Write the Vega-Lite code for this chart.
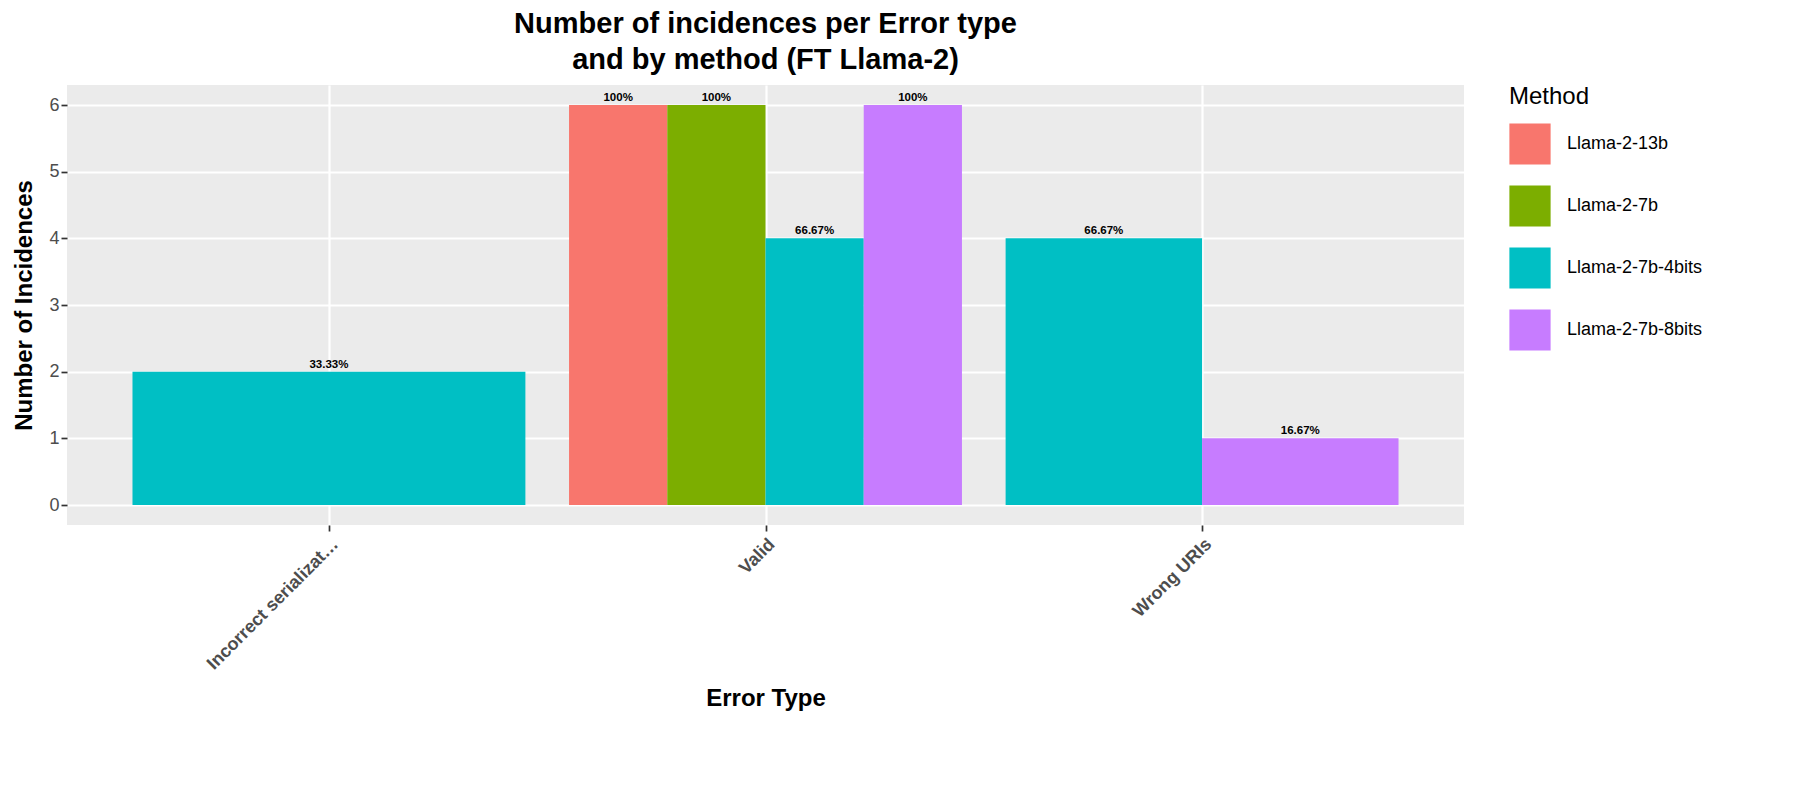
{
  "$schema": "https://vega.github.io/schema/vega-lite/v6.json",
  "width": 1397,
  "height": 440,
  "padding": {"left": 12, "top": 10, "right": 10, "bottom": 10},
  "background": "white",
  "title": {
    "text": ["Number of incidences per Error type", "and by method (FT Llama-2)"],
    "fontSize": 29, "font": "Liberation Sans", "fontWeight": "bold", "color": "black",
    "anchor": "middle", "lineHeight": 36, "offset": 10
  },
  "config": {
    "view": {"fill": "#EBEBEB", "stroke": null},
    "font": "Liberation Sans"
  },
  "data": {
    "values": [
      {"type": "Incorrect serialization", "method": "Llama-2-7b-4bits", "n": 2, "pct": "33.33%"},
      {"type": "Valid", "method": "Llama-2-13b", "n": 6, "pct": "100%"},
      {"type": "Valid", "method": "Llama-2-7b", "n": 6, "pct": "100%"},
      {"type": "Valid", "method": "Llama-2-7b-4bits", "n": 4, "pct": "66.67%"},
      {"type": "Valid", "method": "Llama-2-7b-8bits", "n": 6, "pct": "100%"},
      {"type": "Wrong URIs", "method": "Llama-2-7b-4bits", "n": 4, "pct": "66.67%"},
      {"type": "Wrong URIs", "method": "Llama-2-7b-8bits", "n": 1, "pct": "16.67%"}
    ]
  },
  "transform": [
    {"calculate": "indexof(['Incorrect serialization','Valid','Wrong URIs'], datum.type) + 1", "as": "g"},
    {"calculate": "indexof(['Llama-2-13b','Llama-2-7b','Llama-2-7b-4bits','Llama-2-7b-8bits'], datum.method)", "as": "mi"},
    {"joinaggregate": [{"op": "count", "as": "cnt"}], "groupby": ["type"]},
    {"window": [{"op": "row_number", "as": "r"}], "groupby": ["type"], "sort": [{"field": "mi"}]},
    {"calculate": "datum.g - 0.45 + (datum.r - 1) * 0.9 / datum.cnt", "as": "x0"},
    {"calculate": "datum.x0 + 0.9 / datum.cnt", "as": "x1"},
    {"calculate": "(datum.x0 + datum.x1) / 2", "as": "xm"}
  ],
  "encoding": {
    "x": {
      "field": "x0", "type": "quantitative",
      "scale": {"domain": [0.4, 3.6], "nice": false, "zero": false},
      "axis": {
        "values": [1, 2, 3],
        "labelExpr": "['Incorrect serialization','Valid','Wrong URIs'][datum.value - 1]",
        "title": "Error Type", "titleFontSize": 24, "titleFontWeight": "bold", "titleColor": "black", "titlePadding": 14,
        "labelAngle": -45, "labelAlign": "right", "labelBaseline": "top", "labelFontSize": 18, "labelFontWeight": "bold", "labelColor": "#4D4D4D",
        "grid": true, "gridColor": "white", "gridWidth": 2.2,
        "domain": false, "tickColor": "#333333", "tickSize": 6, "tickWidth": 1.7, "labelPadding": 4
      }
    },
    "y": {
      "field": "n", "type": "quantitative",
      "scale": {"domain": [-0.3, 6.3], "nice": false, "zero": false},
      "axis": {
        "values": [0, 0.5, 1, 1.5, 2, 2.5, 3, 3.5, 4, 4.5, 5, 5.5, 6],
        "format": "d",
        "labelExpr": "datum.value % 1 == 0 ? datum.label : ''",
        "title": "Number of Incidences", "titleFontSize": 24, "titleFontWeight": "bold", "titleColor": "black", "titlePadding": 12,
        "labelFontSize": 18, "labelColor": "#4D4D4D",
        "grid": true, "gridColor": "white",
        "gridWidth": {"condition": {"test": "datum.value % 1 != 0", "value": 1.1}, "value": 2.2},
        "tickSize": {"condition": {"test": "datum.value % 1 != 0", "value": 0}, "value": 6},
        "domain": false, "tickColor": "#333333", "tickWidth": 1.7
      }
    }
  },
  "layer": [
    {
      "mark": {"type": "bar"},
      "encoding": {
        "x2": {"field": "x1"},
        "y2": {"datum": 0},
        "color": {
          "field": "method", "type": "nominal",
          "scale": {
            "domain": ["Llama-2-13b", "Llama-2-7b", "Llama-2-7b-4bits", "Llama-2-7b-8bits"],
            "range": ["#F8766D", "#7CAE00", "#00BFC4", "#C77CFF"]
          },
          "legend": {
            "title": "Method", "titleFontSize": 24, "titleFontWeight": "normal", "titleColor": "black", "titlePadding": 14,
            "labelFontSize": 18, "labelColor": "black", "symbolType": "square", "symbolSize": 1700,
            "symbolStrokeWidth": 0, "rowPadding": 20, "labelOffset": 16, "offset": 45, "orient": "right"
          }
        }
      }
    },
    {
      "mark": {"type": "text", "fontSize": 11.5, "fontWeight": "bold", "baseline": "bottom", "dy": -2, "color": "black"},
      "encoding": {
        "x": {"field": "xm", "type": "quantitative"},
        "text": {"field": "pct"}
      }
    }
  ]
}
